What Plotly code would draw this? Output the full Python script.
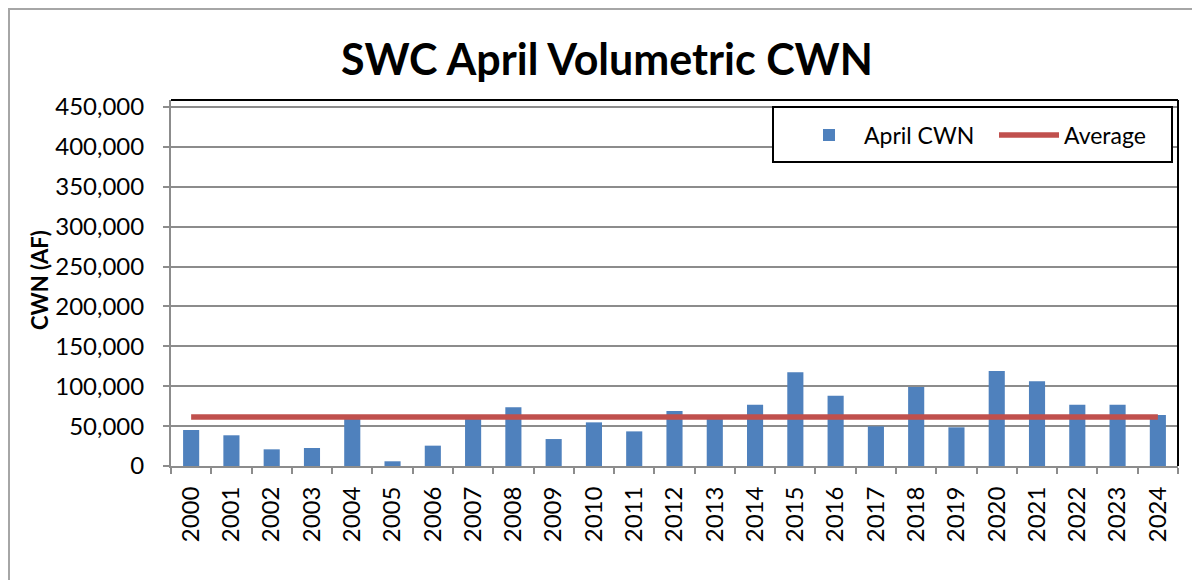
import plotly.graph_objects as go

years = [str(y) for y in range(2000, 2025)]
april_cwn = [45100, 38500, 20900, 22600, 60000, 5900, 25500, 60000, 73500, 33800,
             54700, 43400, 68900, 60000, 76800, 117400, 88100, 49700, 99000, 48500,
             119000, 106100, 76800, 76800, 63900]
average_value = 61400
average = [average_value] * len(years)
y_ticks = [0, 50000, 100000, 150000, 200000, 250000, 300000, 350000, 400000, 450000]

FONT = "Lato"
BLUE = "#4F81BD"
RED = "#C0504D"
GRID = "#8C8C8C"

fig = go.Figure()
fig.add_trace(go.Bar(x=years, y=april_cwn, name="April CWN",
                     marker=dict(color=BLUE, line=dict(width=0))))
fig.add_trace(go.Scatter(x=years, y=average, name="Average", mode="lines",
                         line=dict(color=RED, width=5.5)))

# page body has an 8px offset; coordinates below are figure coordinates
W, H = 1200, 580
L, R, T, B = 163, 30, 92, 122
plot_w = W - L - R
plot_h = H - T - B
bottom_px = H - B
top_val = 450000 * plot_h / (bottom_px - 99)


def px_x(px):
    return (px - L) / plot_w


def px_y(py):
    return (bottom_px - py) / plot_h


fig.update_layout(
    width=W, height=H,
    margin=dict(l=L, r=R, t=T, b=B, pad=0, autoexpand=False),
    paper_bgcolor="white", plot_bgcolor="white",
    font=dict(family=FONT, size=24, color="black"),
    bargap=0.60,
    title=dict(text="<b>SWC April Volumetric CWN</b>", x=599 / W, xref="container",
               xanchor="center", y=1 - 52 / H, yref="container", yanchor="middle",
               font=dict(family=FONT, size=43, color="black")),
    legend=dict(orientation="h", x=px_x(1186), xanchor="right",
                y=px_y(127), yanchor="middle",
                borderwidth=0, bgcolor="rgba(0,0,0,0)",
                font=dict(family=FONT, size=23, color="black"),
                itemwidth=60, entrywidth=125),
    xaxis=dict(type="category", tickangle=-90, showgrid=False, automargin=False,
               showline=True, linecolor=GRID, linewidth=2,
               ticks="outside", ticklen=6, tickcolor=GRID, tickwidth=2,
               tickson="boundaries", tickfont=dict(family=FONT, size=24, color="black"),
               ticklabelstandoff=9,
               range=[-0.5, len(years) - 0.5]),
    yaxis=dict(range=[0, top_val], tickvals=y_ticks, tickformat=",", automargin=False,
               showgrid=True, gridcolor=GRID, gridwidth=2,
               showline=True, linecolor=GRID, linewidth=2,
               ticks="outside", ticklen=6, tickcolor=GRID, tickwidth=2,
               tickfont=dict(family=FONT, size=24, color="black"),
               ticklabelstandoff=14, zeroline=False),
    annotations=[
        dict(text="<b>CWN (AF)</b>", textangle=-90, showarrow=False,
             xref="paper", yref="paper", x=px_x(31), y=px_y(272),
             xanchor="center", yanchor="middle",
             font=dict(family=FONT, size=22, color="black")),
    ],
    shapes=[
        dict(type="line", xref="paper", yref="paper", x0=0, x1=1, y0=1, y1=1,
             line=dict(color="black", width=2)),
        dict(type="line", xref="paper", yref="paper", x0=1, x1=1, y0=0, y1=1,
             line=dict(color="black", width=2)),
        # legend frame
        dict(type="rect", xref="paper", yref="paper",
             x0=px_x(765), x1=px_x(1164), y0=px_y(154), y1=px_y(99),
             fillcolor="white", line=dict(color="black", width=2), layer="above"),
        # outer chart border
        dict(type="rect", xref="paper", yref="paper",
             x0=px_x(1), x1=px_x(W + 20),
             y0=px_y(H + 20), y1=px_y(1),
             line=dict(color="#A6A6A6", width=2), layer="below"),
    ],
)

fig.write_html("out.html")
